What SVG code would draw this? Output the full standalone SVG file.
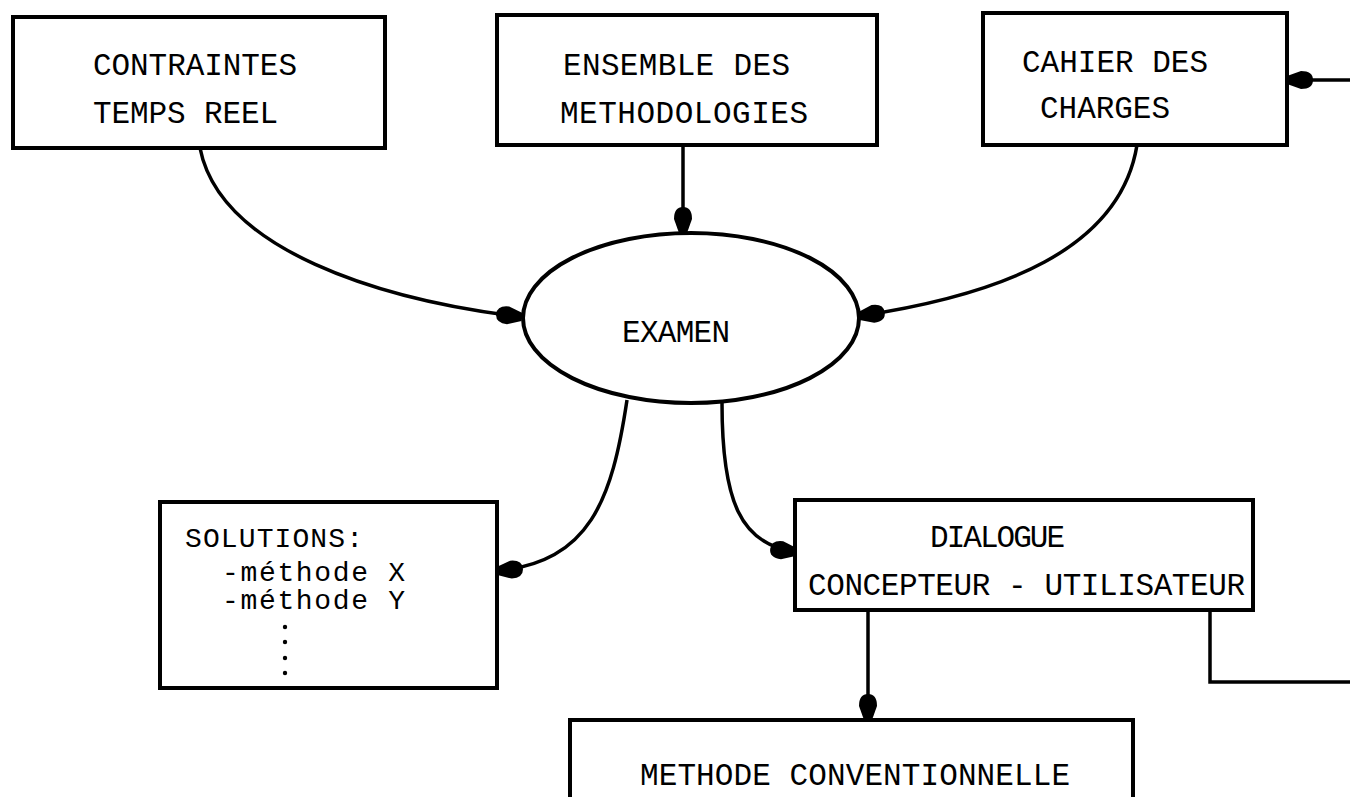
<svg xmlns="http://www.w3.org/2000/svg" width="1350" height="797" viewBox="0 0 1350 797">
  <style>
    .box { fill: #fff; stroke: #000; stroke-width: 4; }
    .wire { fill: none; stroke: #000; stroke-width: 3.5; }
    .lbl { font-family: "Liberation Mono", "DejaVu Sans Mono", monospace; font-size: 31px; fill: #000; }
    .sm { font-size: 28px; }
  </style>
  <defs>
    <!-- blunt, rounded arrowhead used on every connector end -->
    <marker id="tip" markerUnits="userSpaceOnUse" markerWidth="32" markerHeight="22" viewBox="-29 -11 32 22" refX="0" refY="0" orient="auto">
      <path d="M0,-4 L-14,-9 Q-26,-9 -26,0 Q-26,9 -14,9 L0,4 Z" fill="#000"/>
    </marker>
  </defs>
  <rect width="1350" height="797" fill="#fff"/>

  <!-- connectors -->
  <g id="connectors">
    <path class="wire" d="M200,148 C220,250 380,300 522,317" marker-end="url(#tip)"/>
    <path class="wire" d="M683,145 L683,233" marker-end="url(#tip)"/>
    <path class="wire" d="M1137,145 C1120,250 1000,295 859,316" marker-end="url(#tip)"/>
    <path class="wire" d="M627,400 C612,500 590,562 497,571" marker-end="url(#tip)"/>
    <path class="wire" d="M722,403 C722,500 740,545 796,552" marker-end="url(#tip)"/>
    <path class="wire" d="M868,610 L868,720" marker-end="url(#tip)"/>
    <path class="wire" d="M1210,610 L1210,682 L1350,682"/>
    <path class="wire" d="M1350,80 L1287,80" marker-end="url(#tip)"/>
  </g>

  <g id="contraintes">
    <rect class="box" x="13" y="17" width="372" height="131"/>
    <text class="lbl" x="93" y="75" textLength="204">CONTRAINTES</text>
    <text class="lbl" x="93" y="123" textLength="185">TEMPS REEL</text>
  </g>

  <g id="ensemble">
    <rect class="box" x="497" y="15" width="380" height="130"/>
    <text class="lbl" x="563" y="75" textLength="227">ENSEMBLE DES</text>
    <text class="lbl" x="560" y="123" textLength="248">METHODOLOGIES</text>
  </g>

  <g id="cahier">
    <rect class="box" x="983" y="13" width="304" height="132"/>
    <text class="lbl" x="1022" y="72" textLength="186">CAHIER DES</text>
    <text class="lbl" x="1040" y="118" textLength="130">CHARGES</text>
  </g>

  <g id="examen">
    <ellipse class="box" cx="691" cy="318" rx="168" ry="85" stroke-width="3.5"/>
    <text class="lbl" x="622" y="342" font-size="27" textLength="108">EXAMEN</text>
  </g>

  <g id="solutions">
    <rect class="box" x="160" y="502" width="337" height="186"/>
    <text class="lbl sm" x="185" y="547" textLength="178">SOLUTIONS:</text>
    <text class="lbl sm" x="222" y="581" textLength="183">-méthode X</text>
    <text class="lbl sm" x="222" y="609" textLength="183">-méthode Y</text>
    <circle cx="285" cy="627" r="2.2"/>
    <circle cx="285" cy="642" r="2.2"/>
    <circle cx="285" cy="658" r="2.2"/>
    <circle cx="285" cy="673" r="2.2"/>
  </g>

  <g id="dialogue">
    <rect class="box" x="795" y="500" width="458" height="110"/>
    <text class="lbl" x="930" y="547" textLength="135">DIALOGUE</text>
    <text class="lbl" x="808" y="595" textLength="437">CONCEPTEUR - UTILISATEUR</text>
  </g>

  <g id="methode">
    <rect class="box" x="570" y="720" width="563" height="100"/>
    <text class="lbl" x="640" y="785" textLength="430">METHODE CONVENTIONNELLE</text>
  </g>
</svg>
